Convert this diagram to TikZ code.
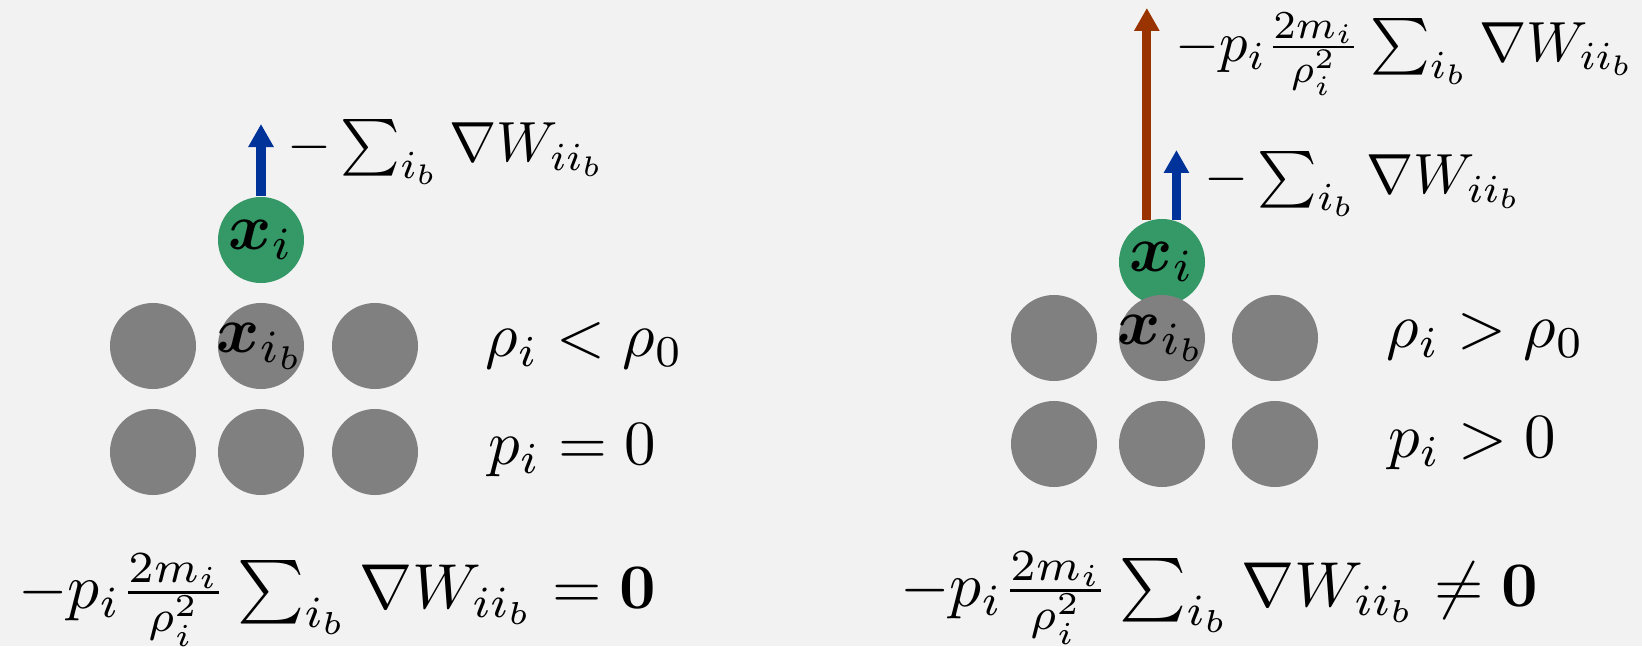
\documentclass[tikz,border=0pt]{standalone}
\usepackage{amsmath,amssymb}
\usepackage{bm}
\usepackage{xcolor}
\usepackage{tikz}
\usetikzlibrary{arrows.meta,positioning}

\definecolor{bggray}{RGB}{242,242,242}
\definecolor{ballgreen}{RGB}{52,153,102}
\definecolor{ballgray}{RGB}{128,128,128}
\definecolor{forceblue}{RGB}{0,51,153}
\definecolor{forcebrown}{RGB}{153,51,0}

\newcommand{\ballname}[1]{\makebox[0pt]{$#1$}}

\begin{document}
\begin{tikzpicture}[
  ball/.style={circle, fill=ballgray, draw=none, inner sep=0pt, minimum size=4.6mm, scale=1.87},
  centre/.style={ball, fill=ballgreen},
  lbl/.style={anchor=west, inner sep=0pt, scale=1.79},
  forcelbl/.style={lbl, scale=0.9},
  eqlbl/.style={lbl, scale=1.01},
  force/.style={line width=2.6pt, -{Triangle[width=2.4mm,length=2.3mm]}}
]
\fill[bggray] (0,0) rectangle (16.42,6.46);
\useasboundingbox (0,0) rectangle (16.42,6.46);

% left: low density
\node[centre] (xiL) at (2.61,4.06) {\ballname{\bm{x}_i}};
\node[ball] (l11) at (1.53,3.00) {};
\node[ball] (l12) at (2.61,3.00) {\ballname{\bm{x}_{i_b}}};
\node[ball] (l13) at (3.75,3.00) {};
\node[ball] (l21) at (1.53,1.94) {};
\node[ball] (l22) at (2.61,1.94) {};
\node[ball] (l23) at (3.75,1.94) {};
\coordinate (tipL) at (2.61,5.22);
\draw[force, forceblue] (xiL.north) -- (tipL);
\node[forcelbl] (gradL) at (2.86,4.94) {$-\sum_{i_b}\nabla W_{ii_b}$};
\node[lbl] (rhoL) at (4.84,3.00) {$\rho_i < \rho_0$};
\node[lbl] (pL) at (4.87,1.96) {$p_i = 0$};
\node[eqlbl] (eqL) at (0.17,0.46) {$-p_i\frac{2m_i}{\rho_i^2}\sum_{i_b}\nabla W_{ii_b} = \mathbf{0}$};

% right: high density
\node[centre] (xiR) at (11.62,3.84) {\ballname{\bm{x}_i}};
\node[ball] (r11) at (10.54,3.08) {};
\node[ball] (r12) at (11.62,3.08) {\ballname{\bm{x}_{i_b}}};
\node[ball] (r13) at (12.75,3.08) {};
\node[ball] (r21) at (10.54,2.02) {};
\node[ball] (r22) at (11.62,2.02) {};
\node[ball] (r23) at (12.75,2.02) {};
\coordinate (tipRp) at (11.47,6.38);
\coordinate (tipRw) at (11.76,4.96);
\draw[force, forcebrown] (xiR.110) -- (xiR.110 |- tipRp);
\draw[force, forceblue] (xiR.71) -- (xiR.71 |- tipRw);
\node[forcelbl] (gradRp) at (11.74,5.92) {$-p_i\frac{2m_i}{\rho_i^2}\sum_{i_b}\nabla W_{ii_b}$};
\node[forcelbl] (gradRw) at (12.03,4.62) {$-\sum_{i_b}\nabla W_{ii_b}$};
\node[lbl] (rhoR) at (13.85,3.09) {$\rho_i > \rho_0$};
\node[lbl] (pR) at (13.87,2.03) {$p_i > 0$};
\node[eqlbl] (eqR) at (8.99,0.48) {$-p_i\frac{2m_i}{\rho_i^2}\sum_{i_b}\nabla W_{ii_b} \neq \mathbf{0}$};
\end{tikzpicture}
\end{document}
